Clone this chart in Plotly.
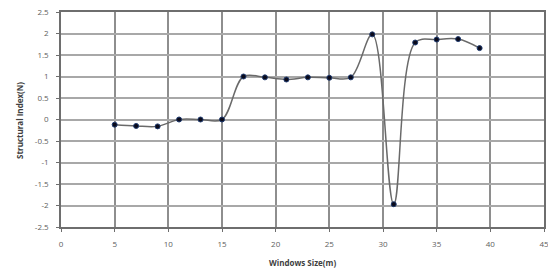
import plotly.graph_objects as go

window_size = [5, 7, 9, 11, 13, 15, 17, 19, 21, 23, 25, 27, 29, 31, 33, 35, 37, 39]
structural_index = [-0.12, -0.15, -0.16, 0.0, 0.0, 0.0, 1.0, 0.98, 0.93, 0.98, 0.97, 0.98,
                    1.98, -1.97, 1.79, 1.86, 1.87, 1.66]

x_ticks = [0, 5, 10, 15, 20, 25, 30, 35, 40, 45]
y_ticks = [-2.5, -2, -1.5, -1, -0.5, 0, 0.5, 1, 1.5, 2, 2.5]

fig = go.Figure()
fig.add_trace(go.Scatter(
    x=window_size, y=structural_index,
    mode="lines+markers",
    line=dict(color="#6a6a6a", width=1.5, shape="spline", smoothing=1.0),
    marker=dict(color="#0a0a1a", size=5, line=dict(color="#1f3a6e", width=1)),
    showlegend=False,
))

font = dict(family="Open Sans, Liberation Sans, sans-serif", size=8, color="#606060")
fig.update_layout(
    width=548, height=275,
    margin=dict(l=61, r=4, t=12, b=48),
    paper_bgcolor="white", plot_bgcolor="white",
    font=font,
)
fig.update_xaxes(
    range=[0, 45], tickvals=x_ticks, ticktext=[str(v) for v in x_ticks],
    showgrid=True, gridcolor="#8e8e8e", gridwidth=1.5,
    showline=True, linecolor="#6e6e6e", linewidth=1.5, mirror=True,
    ticks="outside", ticklen=3, tickcolor="#6e6e6e", ticklabelstandoff=6,
    ticklabeloverflow="allow",
    zeroline=False, automargin=False,
)
fig.update_yaxes(
    range=[-2.5, 2.5], tickvals=y_ticks, ticktext=[f"{v:g}" for v in y_ticks],
    showgrid=True, gridcolor="#a8a8a8", gridwidth=1.5,
    showline=True, linecolor="#6e6e6e", linewidth=1.5, mirror=True,
    ticks="outside", ticklen=3, tickcolor="#6e6e6e", ticklabelstandoff=6,
    ticklabeloverflow="allow",
    zeroline=False, automargin=False,
)
fig.add_annotation(text="<b>Windows Size(m)</b>", xref="paper", yref="paper",
                   x=0.499, y=-0.163, yanchor="middle", xanchor="center", showarrow=False,
                   font=dict(size=8, color="#404040"))
fig.add_annotation(text="<b>Structural Index(N)</b>", xref="paper", yref="paper",
                   x=-0.085, y=0.498, xanchor="center", yanchor="middle", showarrow=False,
                   textangle=-90, font=dict(size=8, color="#404040"))

fig.write_html("out.html",
               config={"displayModeBar": False},
               post_script="document.body.style.margin='0';document.body.style.overflow='hidden';")
